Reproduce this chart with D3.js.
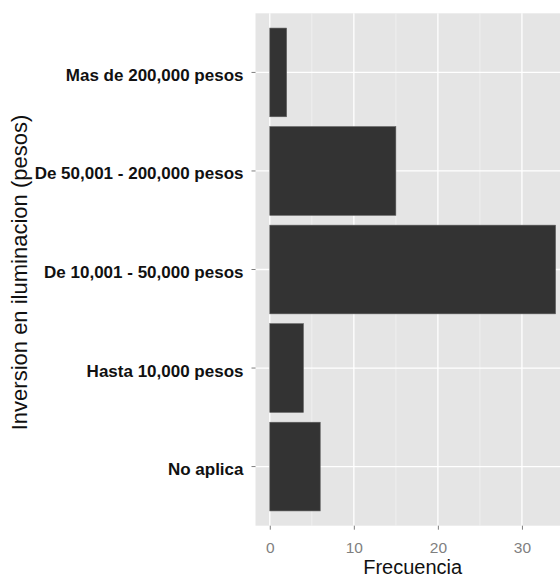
<!DOCTYPE html>
<html>
<head>
<meta charset="utf-8">
<script src="https://cdn.jsdelivr.net/npm/d3@7"></script>
<style>
  html, body { margin: 0; padding: 0; background: #ffffff; overflow: hidden; }
  svg { display: block; }
</style>
</head>
<body>
<svg id="chart" width="560" height="581"></svg>
<script>
// Data
const categories = ["Mas de 200,000 pesos", "De 50,001 - 200,000 pesos", "De 10,001 - 50,000 pesos", "Hasta 10,000 pesos", "No aplica"];
const frecuencias = [2, 15, 34, 4, 6];
const xTicks = [0, 10, 20, 30];
const xMinorTicks = [5, 15, 25, 35];
const xTitle = "Frecuencia";
const yTitle = "Inversion en iluminacion (pesos)";

const svg = d3.select("#chart");
const panel = { left: 255.5, top: 13.3, bottom: 525.7 };

const xMax = d3.max(frecuencias);
const xPad = xMax * 0.05;
const unit = 8.405;
const x = d3.scaleLinear()
  .domain([-xPad, xMax + xPad])
  .range([panel.left, panel.left + (xMax + 2 * xPad) * unit]);
panel.right = x.range()[1];

const y = d3.scaleBand()
  .domain(categories)
  .range([panel.top, panel.bottom])
  .paddingInner(0.1)
  .paddingOuter(0.15);

// Panel background
svg.append("rect")
  .attr("x", panel.left).attr("y", panel.top)
  .attr("width", panel.right - panel.left).attr("height", panel.bottom - panel.top)
  .attr("fill", "#e5e5e5");

// Minor grid
svg.append("g").selectAll("line").data(xMinorTicks).join("line")
  .attr("x1", d => x(d)).attr("x2", d => x(d))
  .attr("y1", panel.top).attr("y2", panel.bottom)
  .attr("stroke", "#f2f2f2").attr("stroke-width", 0.8);

// Major grid
svg.append("g").selectAll("line").data(xTicks).join("line")
  .attr("x1", d => x(d)).attr("x2", d => x(d))
  .attr("y1", panel.top).attr("y2", panel.bottom)
  .attr("stroke", "#ffffff").attr("stroke-width", 1.3);
svg.append("g").selectAll("line").data(categories).join("line")
  .attr("x1", panel.left).attr("x2", panel.right)
  .attr("y1", d => y(d) + y.bandwidth() / 2).attr("y2", d => y(d) + y.bandwidth() / 2)
  .attr("stroke", "#ffffff").attr("stroke-width", 1.3);

// Bars
svg.append("g").selectAll("rect").data(categories).join("rect")
  .attr("x", x(0))
  .attr("y", d => y(d))
  .attr("width", (d, i) => x(frecuencias[i]) - x(0))
  .attr("height", y.bandwidth())
  .attr("fill", "#333333")
  .attr("stroke", "#5c5c5c")
  .attr("stroke-width", 0.6);

// X axis
const xAxis = d3.axisBottom(x).tickValues(xTicks).tickSize(4).tickPadding(4).tickFormat(d3.format("d"));
const gx = svg.append("g").attr("transform", `translate(0,${panel.bottom})`).call(xAxis);
gx.select(".domain").remove();
gx.selectAll(".tick line").attr("stroke", "#7f7f7f").attr("stroke-width", 1);
gx.selectAll(".tick text")
  .attr("fill", "#7f7f7f")
  .attr("font-family", "'Liberation Sans', Arial, sans-serif")
  .attr("font-size", 15.5)
  .attr("dy", null)
  .attr("y", 27.5);

// Y axis
const yAxis = d3.axisLeft(y).tickSize(4).tickPadding(8);
const gy = svg.append("g").attr("transform", `translate(${panel.left},0)`).call(yAxis);
gy.select(".domain").remove();
gy.selectAll(".tick line").attr("stroke", "#7f7f7f").attr("stroke-width", 1);
gy.selectAll(".tick text")
  .attr("fill", "#111111")
  .attr("font-family", "'Liberation Sans', Arial, sans-serif")
  .attr("font-weight", "bold")
  .attr("font-size", 17)
  .attr("x", -12)
  .attr("dy", null)
  .attr("y", 8.5);

// Axis titles
svg.append("text")
  .attr("x", (panel.left + panel.right) / 2)
  .attr("y", 574)
  .attr("text-anchor", "middle")
  .attr("font-family", "'Liberation Sans', Arial, sans-serif")
  .attr("font-size", 20)
  .attr("fill", "#111111")
  .text(xTitle);

svg.append("text")
  .attr("transform", `translate(27,${(panel.top + panel.bottom) / 2 + 3}) rotate(-90)`)
  .attr("text-anchor", "middle")
  .attr("font-family", "'Liberation Sans', Arial, sans-serif")
  .attr("font-size", 22)
  .attr("fill", "#111111")
  .text(yTitle);
</script>
</body>
</html>
